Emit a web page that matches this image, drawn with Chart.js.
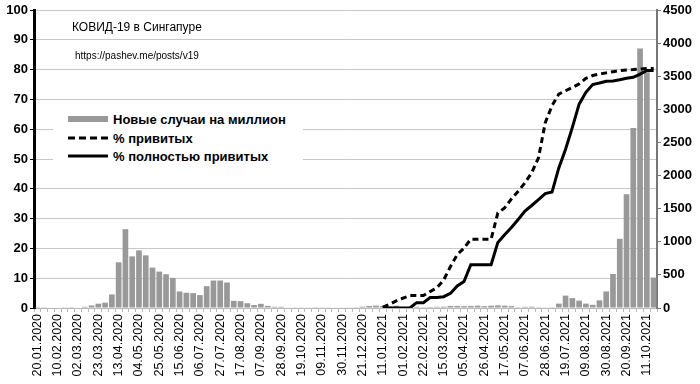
<!DOCTYPE html>
<html>
<head>
<meta charset="utf-8">
<script src="https://cdn.jsdelivr.net/npm/chart.js@4.4.1/dist/chart.umd.min.js"></script>
<style>
  html, body { margin: 0; padding: 0; background: #fff; }
  #wrap { position: relative; width: 700px; height: 384px; font-family: "Liberation Sans", Arial, sans-serif; }
  #c { position: absolute; left: 0; top: 0; }
  .txt { position: absolute; white-space: nowrap; color: #000; }
  #title { left: 72px; top: 20px; font-size: 12px; }
  #url { left: 75px; top: 50px; font-size: 10px; }
  #legend { position: absolute; left: 53px; top: 106px; width: 250px; height: 62px; background: #fff; }
  .lrow { position: absolute; left: 15px; height: 16px; font-weight: bold; font-size: 13px; display: flex; align-items: center; }
  .lrow svg { margin-right: 5px; }
</style>
</head>
<body>
<div id="wrap">
  <canvas id="c" width="700" height="384"></canvas>
  <div class="txt" id="title">КОВИД-19 в Сингапуре</div>
  <div class="txt" id="url">https://pashev.me/posts/v19</div>
  <div id="legend">
    <div class="lrow" style="top:5px"><svg width="40" height="8"><rect x="0" y="1" width="40" height="6" fill="#999999"/></svg><span>Новые случаи на миллион</span></div>
    <div class="lrow" style="top:24px"><svg width="40" height="8"><line x1="0" y1="4" x2="40" y2="4" stroke="#000" stroke-width="3" stroke-dasharray="7,4"/></svg><span>% привитых</span></div>
    <div class="lrow" style="top:42px"><svg width="40" height="8"><line x1="0" y1="4" x2="40" y2="4" stroke="#000" stroke-width="3"/></svg><span>% полностью привитых</span></div>
  </div>
</div>
<script>
// Weekly categories (week start dates)
const weeks = [
  "20.01.2020","27.01.2020","03.02.2020","10.02.2020","17.02.2020","24.02.2020",
  "02.03.2020","09.03.2020","16.03.2020","23.03.2020","30.03.2020",
  "06.04.2020","13.04.2020","20.04.2020","27.04.2020",
  "04.05.2020","11.05.2020","18.05.2020","25.05.2020",
  "01.06.2020","08.06.2020","15.06.2020","22.06.2020","29.06.2020",
  "06.07.2020","13.07.2020","20.07.2020","27.07.2020",
  "03.08.2020","10.08.2020","17.08.2020","24.08.2020","31.08.2020",
  "07.09.2020","14.09.2020","21.09.2020","28.09.2020",
  "05.10.2020","12.10.2020","19.10.2020","26.10.2020",
  "02.11.2020","09.11.2020","16.11.2020","23.11.2020","30.11.2020",
  "07.12.2020","14.12.2020","21.12.2020","28.12.2020",
  "04.01.2021","11.01.2021","18.01.2021","25.01.2021",
  "01.02.2021","08.02.2021","15.02.2021","22.02.2021",
  "01.03.2021","08.03.2021","15.03.2021","22.03.2021","29.03.2021",
  "05.04.2021","12.04.2021","19.04.2021","26.04.2021",
  "03.05.2021","10.05.2021","17.05.2021","24.05.2021","31.05.2021",
  "07.06.2021","14.06.2021","21.06.2021","28.06.2021",
  "05.07.2021","12.07.2021","19.07.2021","26.07.2021",
  "02.08.2021","09.08.2021","16.08.2021","23.08.2021","30.08.2021",
  "06.09.2021","13.09.2021","20.09.2021","27.09.2021",
  "04.10.2021","11.10.2021","18.10.2021"
];

// New cases per million (weekly), right axis
const casesPerMillion = [
  3, 4, 8, 8, 5, 3,
  8, 17, 38, 65, 80,
  205, 690, 1190, 780,
  870, 795, 610, 550,
  510, 455, 250, 230, 225,
  195, 330, 415, 415,
  385, 108, 103, 72, 45,
  63, 32, 18, 18,
  9, 5, 5, 5,
  3, 5, 5, 6, 6,
  10, 12, 20, 30,
  35, 30, 25, 35,
  15, 12, 18, 12,
  15, 18, 20, 30, 30,
  28, 30, 35, 28,
  35, 40, 35, 28, 12,
  18, 20, 12, 10,
  12, 66, 187, 150,
  111, 66, 48, 116, 250,
  513, 1045, 1718, 2717,
  3920, 3560, 460
];

// Vaccination from 11.01.2021 onward, % of population (left axis)
const vaccStartIndex = 51;
const pctVaccinated = [
  0.3, 1.2, 2.4, 3.3, 4.2, 4.2, 4.2, 5.5, 6.8, 9.4,
  13.9, 17.9, 20.1, 23.1, 23.1, 23.1, 23.1, 31.9, 33.6, 36.6,
  39.2, 42.0, 45.4, 50.4, 62.2, 67.9, 71.8, 72.9, 74.0, 75.2,
  77.1, 78.0, 78.5, 78.9, 79.3, 79.7, 79.9, 80.0, 80.2, 80.4, 80.4
];
const pctFully = [
  0, 0, 0, 0, 0, 1.8, 1.8, 3.5, 3.5, 3.8,
  4.9, 7.4, 8.9, 14.5, 14.5, 14.5, 14.5, 22.0, 24.6, 27.0,
  29.7, 32.5, 34.4, 36.4, 38.4, 38.9, 47.0, 53.3, 60.6, 68.4,
  72.4, 75.0, 75.5, 76.1, 76.2, 76.6, 77.1, 77.4, 78.5, 79.7, 79.7
];

const pad = Array(vaccStartIndex).fill(null);
const FONT = "'Liberation Sans', Arial, sans-serif";

new Chart(document.getElementById('c'), {
  type: 'bar',
  data: {
    labels: weeks,
    datasets: [
      {
        type: 'line', label: '% привитых', data: pad.concat(pctVaccinated), yAxisID: 'y',
        borderColor: '#000', borderWidth: 3, borderDash: [6, 4], pointRadius: 0, tension: 0, fill: false, order: 0, spanGaps: false
      },
      {
        type: 'line', label: '% полностью привитых', data: pad.concat(pctFully), yAxisID: 'y',
        borderColor: '#000', borderWidth: 3, pointRadius: 0, tension: 0, fill: false, order: 1
      },
      {
        type: 'bar', label: 'Новые случаи на миллион', data: casesPerMillion, yAxisID: 'y2',
        backgroundColor: '#999999', borderWidth: 0, barPercentage: 0.84, categoryPercentage: 1.0, order: 2
      }
    ]
  },
  options: {
    responsive: false,
    animation: false,
    devicePixelRatio: 1,
    layout: { padding: { top: 10, left: 0, right: 0, bottom: 0 } },
    plugins: { legend: { display: false }, tooltip: { enabled: false }, title: { display: false } },
    scales: {
      x: {
        grid: { display: true, drawOnChartArea: false, drawTicks: true, tickLength: 4, color: '#b8b8b8' },
        border: { display: true, color: '#b8b8b8', width: 1 },
        ticks: {
          autoSkip: false, maxRotation: 90, minRotation: 90, padding: 2,
          color: '#000', font: { family: FONT, size: 12.5 },
          callback: function(v, i) { return i % 3 === 0 ? weeks[i] : ''; }
        },
        afterFit: function(s) { s.height = 76; }
      },
      y: {
        position: 'left', min: 0, max: 100,
        grid: { color: '#c8c8c8', lineWidth: 1, drawTicks: true, tickLength: 4, tickColor: '#000' },
        border: { display: true, color: '#000', width: 3 },
        ticks: { stepSize: 10, padding: 2, color: '#000', font: { family: FONT, size: 13, weight: 'bold' },
          callback: function(v) { return String(v); } },
        afterFit: function(s) { s.width = 34; }
      },
      y2: {
        position: 'right', min: 0, max: 4500,
        grid: { drawOnChartArea: false, drawTicks: true, tickLength: 4, tickColor: '#777' },
        border: { display: true, color: '#777', width: 2 },
        ticks: { stepSize: 500, padding: 2, color: '#000', font: { family: FONT, size: 13, weight: 'bold' },
          callback: function(v) { return String(v); } },
        afterFit: function(s) { s.width = 43; }
      }
    }
  }
});
</script>
</body>
</html>
